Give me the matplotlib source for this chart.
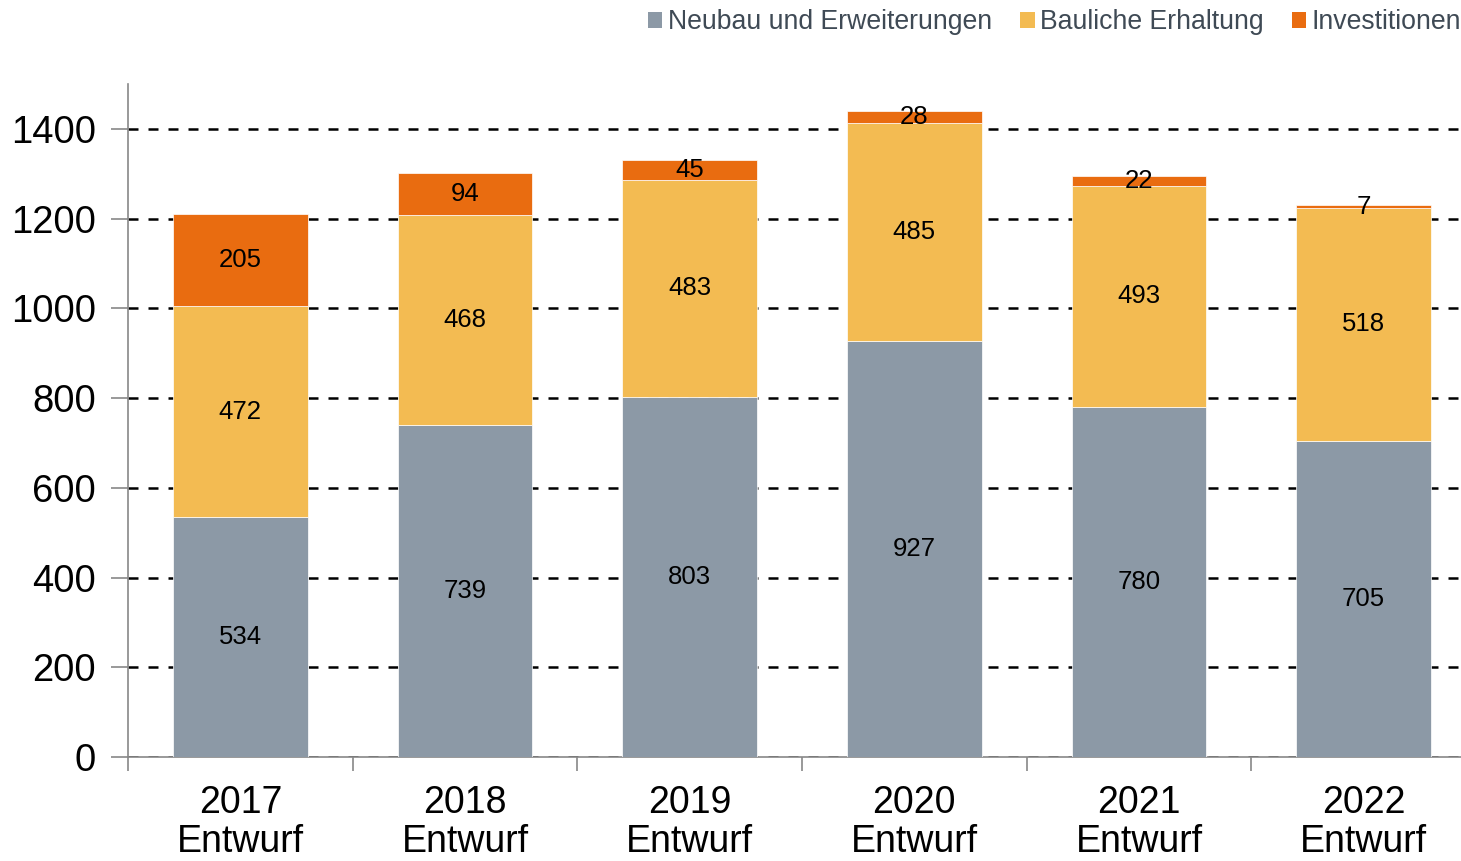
import matplotlib
matplotlib.use("Agg")
import matplotlib.pyplot as plt
import numpy as np
from matplotlib.patches import Patch

plt.rcParams['font.family'] = ['Liberation Sans', 'DejaVu Sans']

categories = ["2017\nEntwurf", "2018\nEntwurf", "2019\nEntwurf", "2020\nEntwurf", "2021\nEntwurf", "2022\nEntwurf"]
neubau = [534, 739, 803, 927, 780, 705]
erhaltung = [472, 468, 483, 485, 493, 518]
invest = [205, 94, 45, 28, 22, 7]
series_names = ["Neubau und Erweiterungen", "Bauliche Erhaltung", "Investitionen"]
colors = ["#8C99A6", "#F3BB52", "#E96C10"]

fig = plt.figure(figsize=(14.61, 8.61), dpi=100)
ax = fig.add_axes([128/1461, (861-757)/861, (1476-128)/1461, (757-84)/861])

x = np.arange(len(categories))
bottom = np.zeros(len(categories))
for vals, col in zip([neubau, erhaltung, invest], colors):
    v = np.array(vals, dtype=float)
    ax.bar(x, v, 0.6, bottom=bottom, color=col, edgecolor='white', linewidth=0.5, zorder=3)
    for xi, b, h in zip(x, bottom, v):
        ax.text(xi, b + h/2, f"{int(h)}", ha='center', va='center', fontsize=18.5, color='black', zorder=4)
    bottom += v

ax.set_xlim(-0.5, len(categories) - 0.5)
ax.set_ylim(0, 1500)
ax.set_yticks(np.arange(0, 1401, 200))
ax.tick_params(axis='y', labelsize=27.5, length=12, width=1.2, color='#888888', pad=11)
ax.set_xticks(x)
ax.set_xticklabels(categories, fontsize=27, linespacing=1.12)
ax.set_xticks(np.arange(-0.5, len(categories), 1.0), minor=True)
ax.tick_params(axis='x', which='major', length=0, pad=20)
ax.tick_params(axis='x', which='minor', length=10, width=1.2, color='#888888')

ax.yaxis.grid(True, linestyle=(0, (4, 4)), color='black', linewidth=1.8, zorder=0)
ax.set_axisbelow(True)
for s in ['top', 'right']:
    ax.spines[s].set_visible(False)
ax.spines['left'].set_color('#888888')
ax.spines['bottom'].set_color('#888888')
ax.spines['left'].set_linewidth(1.2)
ax.spines['bottom'].set_linewidth(1.2)

handles = [Patch(facecolor=c, edgecolor='none') for c in colors]
leg = fig.legend(handles, series_names, loc='upper right', bbox_to_anchor=(1.011, 1.008), ncol=3,
                 frameon=False, fontsize=19.2, handlelength=0.55, handleheight=0.55,
                 handletextpad=0.2, columnspacing=1.05, borderaxespad=0.2)
for t in leg.get_texts():
    t.set_color('#3F4A55')

fig.savefig("out.png", dpi=100)
